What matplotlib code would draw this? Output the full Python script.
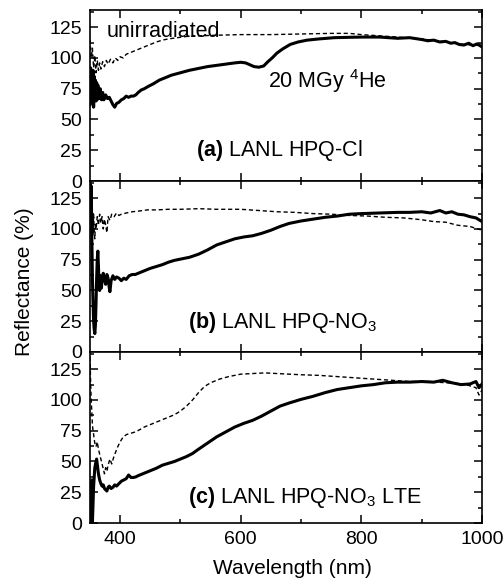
import matplotlib
matplotlib.use("Agg")
import matplotlib.pyplot as plt
from matplotlib.ticker import MultipleLocator

plt.rcParams["font.family"] = ["Liberation Sans", "DejaVu Sans"]
plt.rcParams["mathtext.fontset"] = "custom"
plt.rcParams["mathtext.rm"] = "Liberation Sans"
plt.rcParams["mathtext.it"] = "Liberation Sans:italic"
plt.rcParams["mathtext.bf"] = "Liberation Sans:bold"

# ---- (a) LANL HPQ-Cl ----
wl_a_irr = [350, 351, 352, 353, 354, 355, 356, 357, 358, 359, 360, 361, 362, 363, 365, 367,
            369, 371, 373, 376, 379, 382, 385, 388, 391, 394, 398, 402, 406, 410, 414, 418,
            422, 426, 430, 435, 440, 447, 455, 465, 475, 485, 500, 515, 530, 545, 560, 575,
            590, 600, 608, 615, 622, 630, 638, 645, 652, 660, 670, 682, 695, 710, 730, 755,
            780, 800, 830, 860, 880, 900, 910, 920, 930, 940, 948, 955, 962, 970, 978, 985,
            992, 1000]
refl_a_irr = [62, 92, 70, 88, 64, 90, 60, 85, 68, 82, 65, 80, 66, 78, 67, 75,
              66, 72, 66, 70, 67, 68, 65, 62, 60, 63, 64, 66, 67, 69, 68, 69,
              69, 70, 72, 74, 75, 77, 79, 82, 84, 86, 88, 90, 91.5, 93, 94, 95,
              96, 96.5, 96, 94.5, 93, 92.5, 93.5, 97, 100, 104, 107.5, 111, 113, 114.5, 115.5, 116.5,
              116.8, 117, 117, 116, 116.5, 115, 114, 114.5, 113, 113.5, 112, 112.5, 111, 110.5, 112, 110,
              111.5, 109]
wl_a_ref = [350, 352, 354, 356, 358, 360, 362, 364, 366, 368, 371, 374, 377, 380, 384, 388,
            392, 396, 400, 405, 410, 420, 430, 440, 450, 460, 470, 480, 495, 510, 530, 560,
            600, 650, 700, 750, 780, 800, 830, 860, 900, 940, 970, 1000]
refl_a_ref = [115, 100, 108, 92, 102, 88, 98, 90, 96, 91, 97, 93, 98, 95, 99, 96,
              100, 98, 101, 100, 103, 105, 107, 109, 111, 113, 114.5, 115.5, 116.5, 117.5, 118, 118.5,
              119, 119, 119.5, 120, 120, 119, 118, 117, 115.5, 113, 111, 110]

# ---- (b) LANL HPQ-NO3 ----
wl_b_irr = [350, 351, 352, 353, 354, 355, 356, 357, 358, 359, 360, 361, 362, 363, 364, 365,
            366, 367, 368, 369, 370, 372, 374, 376, 378, 380, 382, 383, 385, 388, 391, 394,
            398, 402, 406, 410, 415, 420, 425, 430, 440, 450, 460, 470, 480, 490, 500, 515,
            530, 545, 560, 575, 590, 605, 620, 635, 650, 665, 680, 700, 720, 740, 760, 780,
            800, 830, 860, 880, 900, 915, 930, 940, 950, 960, 970, 980, 990, 1000]
refl_b_irr = [140, 120, 135, 95, 60, 40, 25, 18, 15, 22, 40, 60, 75, 82, 70, 55,
              50, 62, 58, 52, 60, 64, 58, 55, 63, 60, 52, 49, 58, 62, 59, 61,
              60, 58, 60, 59, 62, 63, 63, 64, 66, 68, 69.5, 71, 73, 74.5, 75.5, 77,
              79.5, 83, 87, 89.5, 92, 93.5, 94.5, 96.5, 99, 102, 104.5, 106.5, 108, 109.5, 110.5, 112,
              112.5, 113, 113.5, 113.5, 114, 113, 115, 113, 114, 112, 111.5, 110, 109, 106]
wl_b_ref = [350, 351, 352, 353, 354, 355, 356, 357, 358, 359, 360, 362, 364, 366, 368, 370,
            372, 374, 376, 378, 380, 383, 386, 390, 394, 398, 402, 410, 420, 430, 445, 460,
            480, 500, 530, 560, 600, 630, 660, 690, 720, 750, 780, 810, 840, 870, 900, 920,
            940, 960, 980, 1000]
refl_b_ref = [125, 110, 118, 100, 108, 95, 112, 98, 92, 105, 100, 110, 103, 112, 105, 110,
              100, 108, 103, 97, 110, 107, 112, 110, 113, 111, 112, 113, 114, 114.5, 115.5, 115.5,
              116, 116, 116.5, 116, 116, 115, 114, 113.5, 112.5, 112, 111, 110.5, 109.5, 109, 107.5, 106,
              105.5, 103, 102, 99]

# ---- (c) LANL HPQ-NO3 LTE ----
wl_c_irr = [350, 351, 352, 353, 354, 356, 358, 360, 361, 362, 364, 366, 368, 370, 372, 374,
            376, 378, 380, 382, 385, 388, 391, 394, 398, 402, 406, 410, 414, 418, 422, 426,
            430, 440, 450, 460, 470, 480, 490, 500, 510, 520, 530, 545, 560, 575, 590, 605,
            620, 635, 650, 665, 680, 700, 720, 740, 760, 780, 800, 820, 840, 860, 880, 900,
            920, 935, 950, 965, 980, 990, 995, 1000]
refl_c_irr = [0, 20, 5, 35, 0, 30, 45, 50, 52, 48, 40, 35, 32, 30, 31, 28,
              27, 26, 29, 30, 28, 29, 31, 30, 32, 34, 35, 36, 39, 37, 37, 37.5,
              38.5, 40.5, 42.5, 44.5, 47, 48.5, 50, 52, 54, 56.5, 60, 65, 70, 74, 78, 81,
              83.5, 87, 91, 95, 97.5, 100.5, 103, 106, 108.5, 110, 111.5, 112.5, 114, 114.5, 114.5, 115,
              114.5, 116, 114, 112.5, 113, 115, 110, 113]
wl_c_ref = [350, 351, 352, 353, 354, 355, 356, 357, 358, 360, 362, 364, 366, 368, 370, 372,
            374, 376, 378, 380, 383, 386, 389, 392, 396, 400, 405, 411, 418, 425, 433, 440,
            450, 460, 470, 480, 490, 500, 510, 520, 530, 540, 550, 565, 580, 600, 620, 640,
            660, 680, 700, 730, 760, 790, 820, 850, 880, 910, 940, 970, 990, 995, 1000]
refl_c_ref = [135, 115, 100, 90, 80, 75, 72, 68, 65, 62, 66, 60, 56, 52, 48, 44,
              40, 45, 42, 47, 52, 48, 53, 57, 62, 66, 70, 72, 73, 74, 76, 78,
              80, 82, 84, 86, 88, 91, 95, 100, 106, 111, 114, 117, 119, 121, 121.5, 122,
              121.5, 121, 120.5, 120, 119, 118, 117, 116, 115, 115, 114, 113, 110, 104, 108]

panels = [
    (wl_a_irr, refl_a_irr, wl_a_ref, refl_a_ref, r"$\mathbf{(a)}$ LANL HPQ-Cl", 526, 20),
    (wl_b_irr, refl_b_irr, wl_b_ref, refl_b_ref, r"$\mathbf{(b)}$ LANL HPQ-NO$_3$", 513, 19.5),
    (wl_c_irr, refl_c_irr, wl_c_ref, refl_c_ref, r"$\mathbf{(c)}$ LANL HPQ-NO$_3$ LTE", 513, 16.3),
]

fig = plt.figure(figsize=(5.04, 5.81), dpi=100)
W, H = 504, 581
left, right = 90, 482
tops = [10, 181, 352]
ph = 171

tick_fs = 14
label_fs = 15
note_fs = 15.5
for i, (wi, ri, wr, rr, label, lx, ly) in enumerate(panels):
    ax = fig.add_axes([left / W, 1 - (tops[i] + ph) / H, (right - left) / W, ph / H])
    ax.plot(wr, rr, color="black", lw=1.0, ls=(0, (3, 2)))
    ax.plot(wi, ri, color="black", lw=2.2)
    ax.set_xlim(350, 1000)
    ax.set_ylim(0, 139)
    ax.xaxis.set_major_locator(MultipleLocator(200))
    ax.xaxis.set_minor_locator(MultipleLocator(100))
    ax.yaxis.set_major_locator(MultipleLocator(25))
    ax.yaxis.set_minor_locator(MultipleLocator(12.5))
    ax.tick_params(which="both", direction="in", top=True, right=True, width=1.1)
    ax.tick_params(which="major", length=6, labelsize=tick_fs, pad=6)
    ax.tick_params(which="minor", length=3)
    for s in ax.spines.values():
        s.set_linewidth(1.2)
    if i < 2:
        ax.tick_params(labelbottom=False)
    ax.text(lx, ly, label, fontsize=note_fs, va="baseline", ha="left")
    if i == 0:
        ax.text(378, 117, "unirradiated", fontsize=note_fs, va="baseline", ha="left")
        ax.text(645, 76, r"20 MGy $^{4}$He", fontsize=note_fs, va="baseline", ha="left")

fig.text(25 / W, 1 - 282 / H, "Reflectance (%)", rotation=90, fontsize=label_fs,
         ha="center", va="center")
fig.text(292 / W, 1 - 568 / H, "Wavelength (nm)", fontsize=label_fs, ha="center", va="center")

fig.savefig("out.png", dpi=100)
